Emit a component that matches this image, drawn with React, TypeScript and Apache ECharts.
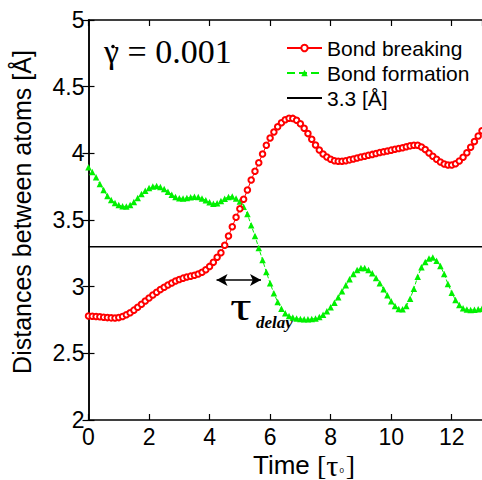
import React, { useEffect, useRef } from "react";
import * as echarts from "echarts";

const timeStep = 0.125;

const bondBreaking = [
  2.78, 2.778, 2.776, 2.774, 2.771, 2.768, 2.766, 2.765, 2.768, 2.776,
  2.789, 2.805, 2.824, 2.845, 2.868, 2.892, 2.915, 2.937, 2.958, 2.978,
  2.996, 3.013, 3.028, 3.042, 3.054, 3.064, 3.072, 3.079, 3.086, 3.095,
  3.108, 3.127, 3.152, 3.183, 3.22, 3.255, 3.31, 3.38, 3.45, 3.52,
  3.585, 3.655, 3.725, 3.8, 3.865, 3.93, 3.995, 4.06, 4.115, 4.16,
  4.2, 4.23, 4.252, 4.263, 4.262, 4.248, 4.222, 4.188, 4.148, 4.105,
  4.062, 4.025, 3.995, 3.972, 3.955, 3.945, 3.94, 3.941, 3.945, 3.951,
  3.958, 3.965, 3.972, 3.978, 3.985, 3.992, 3.999, 4.006, 4.012, 4.018,
  4.024, 4.03, 4.036, 4.042, 4.049, 4.056, 4.061, 4.06, 4.048, 4.028,
  4.003, 3.978, 3.955, 3.935, 3.92, 3.912, 3.912, 3.922, 3.942, 3.97,
  4.005, 4.045, 4.088, 4.13, 4.17,
];

const bondFormation = [
  3.895, 3.86, 3.82, 3.77, 3.725, 3.68, 3.65, 3.628, 3.612, 3.603,
  3.602, 3.612, 3.635, 3.665, 3.695, 3.72, 3.74, 3.752, 3.755, 3.748,
  3.732, 3.712, 3.69, 3.673, 3.664, 3.662, 3.665, 3.671, 3.675, 3.672,
  3.662, 3.648, 3.633, 3.622, 3.625, 3.642, 3.66, 3.673, 3.676, 3.662,
  3.638, 3.6, 3.545, 3.46, 3.38, 3.29, 3.2, 3.11, 3.025, 2.95,
  2.885, 2.835, 2.8, 2.78, 2.768, 2.762, 2.758, 2.756, 2.755, 2.757,
  2.762, 2.772, 2.79, 2.815, 2.845, 2.88, 2.92, 2.965, 3.01, 3.055,
  3.095, 3.125, 3.14, 3.14, 3.125, 3.1, 3.065, 3.025, 2.98, 2.935,
  2.89, 2.855, 2.833, 2.83, 2.855, 2.91, 2.985, 3.075, 3.145, 3.185,
  3.212, 3.218, 3.195, 3.155, 3.095, 3.02, 2.955, 2.9, 2.862, 2.838,
  2.828, 2.825, 2.826, 2.83, 2.835,
];

const thresholdValue = 3.3;
const xRange = [0, 13];
const yRange = [2, 5];
const delayStart = [4.23, 3.05];
const delayEnd = [5.7, 3.05];

const SANS = "Liberation Sans, Arial, sans-serif";
const SERIF = "Liberation Serif, Times New Roman, serif";

export default function App() {
  const ref = useRef<HTMLDivElement>(null);
  useEffect(() => {
    if (!ref.current) return;
    const chart = echarts.init(ref.current, null, { renderer: "svg" });
    const red = bondBreaking.map((v, i) => [i * timeStep, v]);
    const green = bondFormation.map((v, i) => [i * timeStep, v]);
    const axisLine = { lineStyle: { color: "#000", width: 1.5 } };
    const tick = { inside: true, length: 6, lineStyle: { color: "#000", width: 1.2 } };
    chart.setOption({
      animation: false,
      backgroundColor: "#fff",
      grid: { left: 88.5, top: 20, width: 398, height: 400 },
      legend: {
        orient: "vertical",
        left: 281,
        top: 32,
        itemWidth: 35,
        itemHeight: 8,
        itemGap: 3,
        data: [
          "Bond breaking",
          "Bond formation",
          { name: "3.3 [Å]", itemStyle: { color: "rgba(0,0,0,0)", opacity: 0 } },
        ],
        textStyle: { fontFamily: SANS, fontSize: 21, color: "#000", lineHeight: 22 },
      },
      xAxis: [
        {
          type: "value",
          min: xRange[0],
          max: xRange[1],
          interval: 2,
          position: "bottom",
          axisLine,
          axisTick: tick,
          splitLine: { show: false },
          axisLabel: {
            fontFamily: SANS,
            fontSize: 23,
            color: "#000",
            margin: 5,
            showMaxLabel: false,
          },
        },
        {
          type: "value",
          min: xRange[0],
          max: xRange[1],
          interval: 2,
          position: "top",
          axisLine,
          axisTick: tick,
          splitLine: { show: false },
          axisLabel: { show: false },
        },
      ],
      yAxis: [
        {
          type: "value",
          min: yRange[0],
          max: yRange[1],
          interval: 0.5,
          position: "left",
          axisLine,
          axisTick: tick,
          splitLine: { show: false },
          axisLabel: { fontFamily: SANS, fontSize: 23, color: "#000", margin: 4 },
        },
        {
          type: "value",
          min: yRange[0],
          max: yRange[1],
          interval: 0.5,
          position: "right",
          axisLine,
          axisTick: tick,
          splitLine: { show: false },
          axisLabel: { show: false },
        },
      ],
      series: [
        {
          name: "Bond formation",
          type: "line",
          data: green,
          symbol: "triangle",
          symbolSize: 6.5,
          lineStyle: { color: "#00f000", width: 1, type: "dashed" },
          itemStyle: { color: "#00f000" },
          z: 3,
        },
        {
          name: "Bond breaking",
          type: "line",
          data: red,
          symbol: "emptyCircle",
          symbolSize: 5.5,
          lineStyle: { color: "#ff0000", width: 1 },
          itemStyle: { color: "#ff0000", borderWidth: 1 },
          z: 4,
        },
        {
          name: "3.3 [Å]",
          type: "line",
          data: [
            [xRange[0], thresholdValue],
            [xRange[1], thresholdValue],
          ],
          symbol: "none",
          lineStyle: { color: "#000", width: 1.5 },
          itemStyle: { color: "#000" },
          z: 2,
          markLine: {
            silent: true,
            symbol: ["arrow", "arrow"],
            symbolSize: [9, 11],
            label: { show: false },
            lineStyle: { color: "#000", width: 1.5, type: "solid" },
            data: [[{ coord: delayStart }, { coord: delayEnd }]],
          },
        },
      ],
      graphic: [
        {
          type: "text",
          left: 104,
          top: 34,
          style: {
            text: "γ = 0.001",
            font: `34px ${SERIF}`,
            fill: "#000",
          },
        },
        {
          type: "circle",
          shape: { cx: 113, cy: 46.5, r: 1.8 },
          style: { fill: "#000" },
        },
        {
          type: "text",
          x: 230,
          y: 307,
          scaleX: 1.35,
          style: {
            text: "τ",
            font: `40px ${SERIF}`,
            fill: "#000",
            align: "left",
            verticalAlign: "middle",
          },
        },
        {
          type: "text",
          x: 256,
          y: 322,
          style: {
            text: "delay",
            font: `italic bold 17px ${SERIF}`,
            fill: "#000",
            align: "left",
            verticalAlign: "middle",
          },
        },
        {
          type: "text",
          x: 253,
          y: 465,
          style: {
            text: "{a|Time }{b|[}{c|τ}{s|0}{b|]}",
            verticalAlign: "middle",
            align: "left",
            fill: "#000",
            rich: {
              a: { fontFamily: SANS, fontSize: 26, fill: "#000" },
              b: { fontFamily: SERIF, fontSize: 28, fill: "#000" },
              c: { fontFamily: SERIF, fontSize: 30, fill: "#000" },
              s: {
                fontFamily: SANS,
                fontSize: 8,
                fill: "#000",
                verticalAlign: "bottom",
                padding: [0, 2, 6, 1],
              },
            },
          },
        },
        {
          type: "text",
          x: 22,
          y: 212,
          rotation: Math.PI / 2,
          style: {
            text: "Distances between atoms [Å]",
            font: `25px ${SANS}`,
            fill: "#000",
            align: "center",
            verticalAlign: "middle",
          },
        },
      ],
    });
    return () => chart.dispose();
  }, []);
  return (
    <div
      ref={ref}
      style={{ position: "fixed", left: 0, top: 0, width: 482, height: 480 }}
    />
  );
}
